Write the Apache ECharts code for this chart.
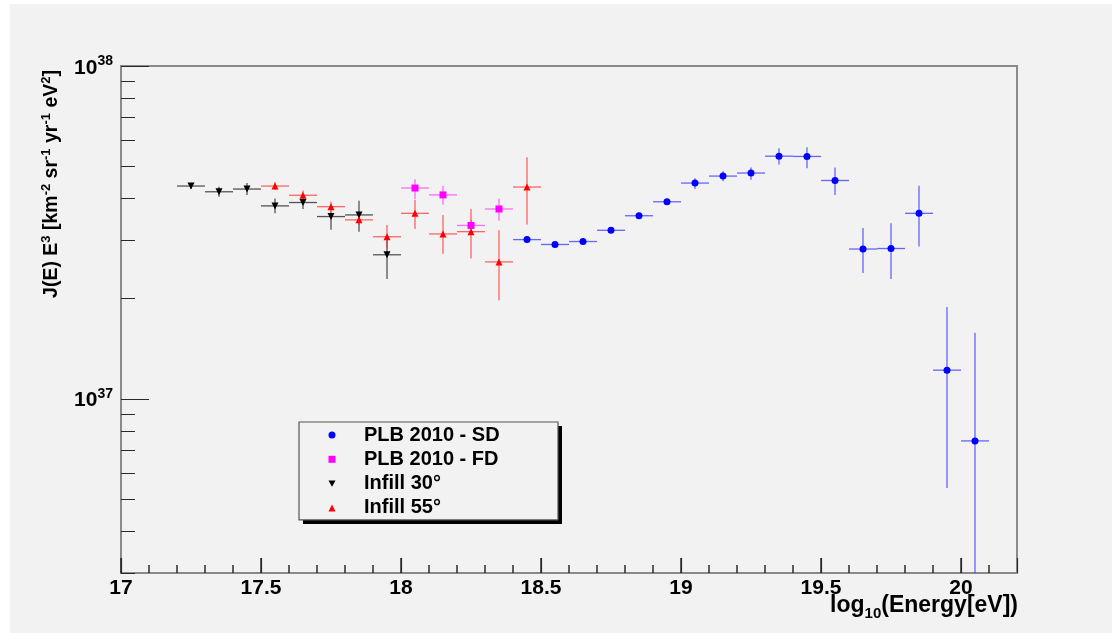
<!DOCTYPE html>
<html>
<head>
<meta charset="utf-8">
<script src="https://cdn.jsdelivr.net/npm/echarts@6/dist/echarts.min.js"></script>
<style>html,body{margin:0;padding:0;background:#fff}#c{width:1112px;height:633px}</style>
</head>
<body>
<div id="c"></div>
<script>
// ---- data (log10 E [eV], J(E)E^3 with lower/upper error values) ----
const sdX  = [18.45,18.55,18.65,18.75,18.85,18.95,19.05,19.15,19.25,19.35,19.45,19.55,19.65,19.75,19.85,19.95,20.05];
const sdY  = [3.01e37,2.91e37,2.97e37,3.21e37,3.55e37,3.91e37,4.45e37,4.67e37,4.77e37,5.36e37,5.35e37,4.53e37,2.82e37,2.83e37,3.61e37,1.22e37,7.48e36];
const sdLo = [2.96e37,2.87e37,2.93e37,3.17e37,3.50e37,3.85e37,4.27e37,4.51e37,4.55e37,5.06e37,4.93e37,4.10e37,2.39e37,2.29e37,2.87e37,5.40e36,1.0e36];
const sdHi = [3.06e37,2.95e37,3.01e37,3.25e37,3.60e37,3.97e37,4.60e37,4.83e37,4.96e37,5.66e37,5.70e37,4.96e37,3.26e37,3.37e37,4.37e37,1.89e37,1.58e37];

const fdX  = [18.05,18.15,18.25,18.35];
const fdY  = [4.30e37,4.10e37,3.32e37,3.72e37];
const fdLo = [3.98e37,3.83e37,3.18e37,3.43e37];
const fdHi = [4.57e37,4.37e37,3.45e37,3.99e37];

const in30X  = [17.25,17.35,17.45,17.55,17.65,17.75,17.85,17.95];
const in30Y  = [4.36e37,4.19e37,4.27e37,3.80e37,3.89e37,3.53e37,3.57e37,2.71e37];
const in30Lo = [4.27e37,4.05e37,4.10e37,3.61e37,3.72e37,3.22e37,3.18e37,2.29e37];
const in30Hi = [4.45e37,4.34e37,4.45e37,4.00e37,4.07e37,3.66e37,3.94e37,3.04e37];

const in55X  = [17.55,17.65,17.75,17.85,17.95,18.05,18.15,18.25,18.35,18.45];
const in55Y  = [4.36e37,4.09e37,3.78e37,3.45e37,3.07e37,3.61e37,3.13e37,3.18e37,2.58e37,4.33e37];
const in55Lo = [4.24e37,3.95e37,3.65e37,3.33e37,2.83e37,3.24e37,2.73e37,2.64e37,1.98e37,3.34e37];
const in55Hi = [4.48e37,4.23e37,3.91e37,3.57e37,3.33e37,3.96e37,3.57e37,3.72e37,3.21e37,5.32e37];

const binHalfWidth = 0.05;

const seriesNames = ['PLB 2010 - SD','PLB 2010 - FD','Infill 30°','Infill 55°'];

const xMin = 17, xMax = 20.2;
const xMajorTicks = [17, 17.5, 18, 18.5, 19, 19.5, 20];
const xMinorTicks = [17.1,17.2,17.3,17.4,17.6,17.7,17.8,17.9,18.1,18.2,18.3,18.4,18.6,18.7,18.8,18.9,
                     19.1,19.2,19.3,19.4,19.6,19.7,19.8,19.9,20.1];
const yMin = 3e36, yMax = 1e38;
const yMajorTicks = [1e37, 1e38];
const yMinorTicks = [3e36,4e36,5e36,6e36,7e36,8e36,9e36,2e37,3e37,4e37,5e37,6e37,7e37,8e37,9e37];

// ---- helpers ----
function pts(xs, ys) { return xs.map((x, i) => [x, ys[i]]); }
function errPts(xs, ys, lo, hi) { return xs.map((x, i) => [x, ys[i], lo[i], hi[i]]); }

function errRenderer(color) {
  return function (params, api) {
    const x = api.value(0), y = api.value(1), lo = api.value(2), hi = api.value(3);
    const a = api.coord([x, lo]), b = api.coord([x, hi]);
    const l = api.coord([x - binHalfWidth, y]), r = api.coord([x + binHalfWidth, y]);
    const st = { stroke: color, lineWidth: 1.3, opacity: 0.7 };
    return {
      type: 'group',
      children: [
        { type: 'line', shape: { x1: a[0], y1: a[1], x2: b[0], y2: b[1] }, style: st },
        { type: 'line', shape: { x1: l[0], y1: l[1], x2: r[0], y2: r[1] }, style: st }
      ]
    };
  };
}

function errSeries(name, data, color) {
  return {
    name: name, type: 'custom', xAxisIndex: 0, yAxisIndex: 0,
    data: data, renderItem: errRenderer(color), clip: true,
    encode: { x: 0, y: [1, 2, 3] }, z: 2
  };
}

function markSeries(name, data, color, symbol, size, rot) {
  return {
    name: name, type: 'scatter', xAxisIndex: 0, yAxisIndex: 0,
    data: data, symbol: symbol, symbolSize: size, symbolRotate: rot || 0,
    itemStyle: { color: color, opacity: 1 }, z: 3
  };
}

const FONT = '"Liberation Sans", Arial, Helvetica, sans-serif';
const axisGray = '#8a8a8a';
const tickColor = '#2a2a2a';

// x-axis tick marks (inside), positioned through the x scale at the axis bottom
function tickSeries(name, values, len) {
  return {
    name: name, type: 'custom', clip: false, z: 10,
    data: values.map(v => [v, yMin]),
    encode: { x: 0, y: 1 },
    renderItem: function (params, api) {
      const p = api.coord([api.value(0), yMin]);
      return { type: 'group', children: [
        { type: 'line', shape: { x1: p[0], y1: p[1], x2: p[0], y2: p[1] - len }, style: { stroke: tickColor, lineWidth: 1.5 } }
      ] };
    }
  };
}

// legend box geometry
const LG = { left: 299, top: 422, padT: 3, padR: 14, padB: 2, padL: 29.5, icon: 7, textPadL: 23.5, textW: 180, rowH: 20, gap: 4.3 };
const lgW = LG.padL + LG.icon + 5 + LG.textPadL + LG.textW + LG.padR;
const lgH = LG.padT + 4 * LG.rowH + 3 * LG.gap + LG.padB;

const chart = echarts.init(document.getElementById('c'), null, { renderer: 'canvas' });

chart.setOption({
  animation: false,
  backgroundColor: '#f2f2f2',
  textStyle: { fontFamily: FONT },
  grid: {
    left: 121, top: 66, right: 95, bottom: 60,
    show: true, borderColor: axisGray, borderWidth: 2
  },
  graphic: [
    { type: 'rect', silent: true, shape: { x: 0, y: 0, width: 1112, height: 4 }, style: { fill: '#ffffff' } },
    { type: 'rect', silent: true, shape: { x: 0, y: 0, width: 10, height: 633 }, style: { fill: '#ffffff' } },
    { type: 'rect', z: 1, silent: true, shape: { x: LG.left + 4, y: LG.top + 4, width: lgW, height: lgH }, style: { fill: '#000000' } },
    {
      type: 'text', silent: true, x: 51, y: 70, rotation: Math.PI / 2,
      style: {
        text: '{b|J(E) E}{s|3}{b| [km}{s|-2}{b| sr}{s|-1}{b| yr}{s|-1}{b| eV}{s|2}{b|]}',
        align: 'right', verticalAlign: 'middle',
        rich: {
          b: { fontFamily: FONT, fontWeight: 'bold', fontSize: 19.5, lineHeight: 22, verticalAlign: 'bottom', fill: '#000' },
          s: { fontFamily: FONT, fontWeight: 'bold', fontSize: 13, lineHeight: 10, verticalAlign: 'top', fill: '#000' }
        }
      }
    },
    {
      type: 'text', silent: true, x: 1018, y: 608,
      style: {
        text: '{b|log}{u|10}{b|(Energy[eV])}',
        align: 'right', verticalAlign: 'middle',
        rich: {
          b: { fontFamily: FONT, fontWeight: 'bold', fontSize: 23, lineHeight: 23, verticalAlign: 'top', fill: '#000' },
          u: { fontFamily: FONT, fontWeight: 'bold', fontSize: 15, lineHeight: 27, verticalAlign: 'bottom', fill: '#000' }
        }
      }
    }
  ],
  legend: {
    data: [
      { name: seriesNames[0] },
      { name: seriesNames[1] },
      { name: seriesNames[2], icon: 'path://M0,0 L10,0 L5,9 Z' },
      { name: seriesNames[3] }
    ],
    orient: 'vertical',
    left: LG.left, top: LG.top,
    padding: [LG.padT, LG.padR, LG.padB, LG.padL],
    itemWidth: LG.icon, itemHeight: LG.icon, itemGap: LG.gap,
    selectedMode: false,
    backgroundColor: '#f2f2f2',
    borderColor: '#555555', borderWidth: 1.2,
    z: 5,
    textStyle: {
      fontFamily: FONT, fontWeight: 'bold', fontSize: 20, color: '#000',
      lineHeight: LG.rowH, width: LG.textW, padding: [0, 0, 0, LG.textPadL]
    }
  },
  xAxis: [
    {
      type: 'value', min: xMin, max: xMax, interval: 0.5, position: 'bottom',
      axisLine: { show: true, onZero: false, lineStyle: { color: axisGray, width: 2 } },
      axisTick: { show: true, inside: true, length: 15, lineStyle: { color: tickColor, width: 1.2 } },
      axisLabel: {
        show: true, margin: 5, color: '#000', fontFamily: FONT, fontWeight: 'bold', fontSize: 21,
        formatter: function (v) { return (v <= 20.0001) ? String(+(+v).toFixed(1)) : ''; }
      },
      splitLine: { show: false }
    }
  ],
  yAxis: [
    {
      type: 'log', logBase: 10, min: yMin, max: yMax, position: 'left',
      axisLine: { show: true, onZero: false, lineStyle: { color: axisGray, width: 2 } },
      axisTick: { show: true, inside: true, length: 28, customValues: yMajorTicks, lineStyle: { color: tickColor, width: 1 } },
      axisLabel: {
        show: true, margin: 8, customValues: yMajorTicks,
        formatter: function (v) { return '{b|10}{s|' + Math.round(Math.log10(v)) + '}'; },
        rich: {
          b: { fontFamily: FONT, fontWeight: 'bold', fontSize: 21, lineHeight: 24.5, verticalAlign: 'bottom', color: '#000' },
          s: { fontFamily: FONT, fontWeight: 'bold', fontSize: 14, lineHeight: 10, verticalAlign: 'top', color: '#000' }
        }
      },
      splitLine: { show: false }
    },
    {
      type: 'log', logBase: 10, min: yMin, max: yMax, position: 'left', offset: 0,
      axisLine: { show: false },
      axisTick: { show: true, inside: true, length: 14, customValues: yMinorTicks, lineStyle: { color: tickColor, width: 1 } },
      axisLabel: { show: false },
      splitLine: { show: false }
    }
  ],
  series: [
    tickSeries('x major ticks', xMajorTicks, 15),
    tickSeries('x minor ticks', xMinorTicks, 8),
    errSeries('SD err', errPts(sdX, sdY, sdLo, sdHi), '#2b2bff'),
    errSeries('FD err', errPts(fdX, fdY, fdLo, fdHi), '#ff33ff'),
    errSeries('I30 err', errPts(in30X, in30Y, in30Lo, in30Hi), '#111111'),
    errSeries('I55 err', errPts(in55X, in55Y, in55Lo, in55Hi), '#ff2a2a'),
    markSeries(seriesNames[0], pts(sdX, sdY), '#0000ff', 'circle', 7),
    markSeries(seriesNames[1], pts(fdX, fdY), '#ff00ff', 'rect', 7),
    markSeries(seriesNames[2], pts(in30X, in30Y), '#000000', 'triangle', 7, 180),
    markSeries(seriesNames[3], pts(in55X, in55Y), '#ff0000', 'triangle', 7)
  ]
});
</script>
</body>
</html>
